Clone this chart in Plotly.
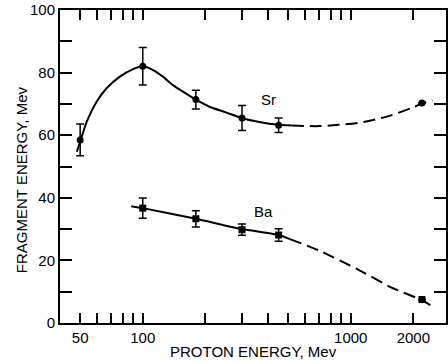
import math
import plotly.graph_objects as go

# Measured data points
sr_x = [50, 100, 180, 300, 450, 2200]
sr_y = [58.5, 82, 71.4, 65.5, 63.2, 70.3]
sr_err = [5.1, 6, 3, 4, 2.3, 0]

ba_x = [100, 180, 300, 450, 2200]
ba_y = [36.7, 33.3, 29.8, 28.1, 7.5]
ba_err = [3.2, 2.6, 1.8, 2.0, 0]

# Hand-drawn curves
sr_solid_x = [48.2, 50.3, 53.8, 60, 67, 77.6, 89.9, 100, 112, 125, 139.7, 156, 178.6, 209, 251, 302, 363, 450, 520]
sr_solid_y = [54.7, 58.5, 64.3, 70.7, 75, 78.7, 81.1, 82, 80.8, 78.7, 76, 73.9, 71.5, 69.1, 67.3, 65.4, 64.2, 63.3, 63.1]
sr_dash_x = [520, 700, 877, 1153, 1520, 1960, 2200, 2466]
sr_dash_y = [63.1, 62.9, 63.3, 64.2, 66.1, 68.7, 70.1, 71.2]

ba_solid_x = [88, 100, 180, 300, 450, 510]
ba_solid_y = [37.3, 36.7, 33.3, 30.0, 28.1, 26.8]
ba_dash_x = [510, 703, 1091, 1571, 2200, 2494]
ba_dash_y = [26.8, 23.2, 17.0, 11.3, 7.3, 5.1]

x_tickvals = [50, 60, 70, 80, 90, 100, 200, 300, 400, 500, 600, 700, 800, 900, 1000, 2000]
x_ticktext = ["50", "", "", "", "", "100", "", "", "", "", "", "", "", "", "1000", "2000"]
y_tickvals = [0, 10, 20, 30, 40, 50, 60, 70, 80, 90, 100]
y_ticktext = ["0", "", "20", "", "40", "", "60", "", "80", "", "100"]

FONT = "Liberation Sans, Arial, sans-serif"

fig = go.Figure()
line = dict(color="black", width=2)
dash_line = dict(color="black", width=2, dash="12px,6px")

fig.add_trace(go.Scatter(x=sr_solid_x, y=sr_solid_y, mode="lines", line=dict(line, shape="spline", smoothing=0.6), hoverinfo="skip"))
fig.add_trace(go.Scatter(x=sr_dash_x, y=sr_dash_y, mode="lines", line=dict(dash_line, shape="spline", smoothing=0.8), hoverinfo="skip"))
fig.add_trace(go.Scatter(x=ba_solid_x, y=ba_solid_y, mode="lines", line=dict(line, shape="spline", smoothing=0.5), hoverinfo="skip"))
fig.add_trace(go.Scatter(x=ba_dash_x, y=ba_dash_y, mode="lines", line=dict(dash_line, shape="spline", smoothing=0.5), hoverinfo="skip"))

fig.add_trace(go.Scatter(
    x=sr_x, y=sr_y, mode="markers",
    marker=dict(symbol="circle", size=7, color="black"),
    error_y=dict(type="data", array=sr_err, visible=True, color="black", thickness=1.5, width=4),
))
fig.add_trace(go.Scatter(
    x=ba_x, y=ba_y, mode="markers",
    marker=dict(symbol="square", size=7, color="black"),
    error_y=dict(type="data", array=ba_err, visible=True, color="black", thickness=1.5, width=4),
))

fig.add_annotation(x=math.log10(401), y=71.5, text="Sr", showarrow=False, font=dict(size=15, family=FONT, color="black"))
fig.add_annotation(x=math.log10(380), y=35.5, text="Ba", showarrow=False, font=dict(size=15, family=FONT, color="black"))

fig.add_annotation(xref="paper", yref="paper", x=0.501, y=-0.0895, text="PROTON ENERGY, Mev",
                   showarrow=False, font=dict(size=15, family=FONT, color="black"), yanchor="middle")
fig.add_annotation(xref="paper", yref="paper", x=-0.098, y=0.457, text="FRAGMENT ENERGY, Mev",
                   showarrow=False, textangle=-90, font=dict(size=15, family=FONT, color="black"), xanchor="center")

fig.update_layout(
    width=448, height=363,
    margin=dict(l=60, r=0, t=10, b=40),
    plot_bgcolor="white", paper_bgcolor="white",
    showlegend=False,
    font=dict(family=FONT, size=15, color="black"),
    xaxis=dict(
        type="log", range=[math.log10(40), 3.458],
        tickvals=x_tickvals, ticktext=x_ticktext,
        ticks="inside", ticklen=10, tickwidth=1.5, tickcolor="black",
        showline=True, linecolor="black", linewidth=2, mirror="ticks",
        showgrid=False, zeroline=False,
    ),
    yaxis=dict(
        range=[0, 100],
        tickvals=y_tickvals, ticktext=y_ticktext,
        ticks="inside", ticklen=12, tickwidth=1.5, tickcolor="black",
        showline=True, linecolor="black", linewidth=2, mirror="ticks",
        showgrid=False, zeroline=False,
    ),
)

# remove the default 8px page margin so the figure sits at the window's corner
fig.write_html(
    "out.html",
    config={"displayModeBar": False},
    post_script="document.body.style.margin='0';document.body.style.overflow='hidden';",
)
